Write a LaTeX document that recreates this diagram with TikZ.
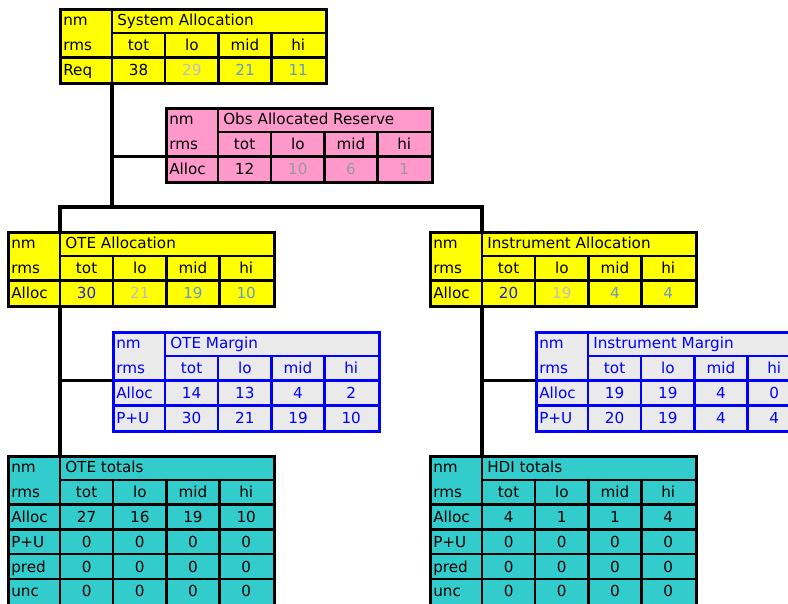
\documentclass[tikz,border=0pt]{standalone}
\usepackage{fontspec}
\setmainfont{DejaVu Sans}
\usepackage{tikz}

\definecolor{tabyellow}{HTML}{FFFF00}
\definecolor{tabpink}{HTML}{FF99CC}
\definecolor{tabgrey}{HTML}{EAEAEA}
\definecolor{tabteal}{HTML}{33CCCC}
\definecolor{tabblue}{HTML}{0000FF}
\definecolor{valpale}{HTML}{C0C0C0}
\definecolor{valgrey}{HTML}{999999}
\definecolor{valsteel}{HTML}{6699CC}
\definecolor{valblue}{HTML}{2222DD}

\tikzset{
  tabframe/.style={line width=2.3pt, inner sep=0pt, anchor=north west, minimum width=199.35pt},
  tabrule/.style={line width=1.8pt},
  tabcell/.style={inner sep=0pt, font=\fontsize{11.4}{13}\selectfont},
  link/.style={draw=black, line width=2.3pt},
}

% one cost table: name, x, y, rows, fill, rule colour, text colour, title, data rows
\newcommand{\costtable}[9]{%
  \node[tabframe, draw=#6, fill=#5, minimum height={18.6pt*#4}] (#1) at (#2,#3) {};
  \begin{scope}[shift={(#2,#3)}]
    \draw[tabrule, #6] (53,0) -- (53,24.8*#4);
    \draw[tabrule, #6] (53,24.8) -- (265.8,24.8);
    \foreach \c in {1,2,3}
      \draw[tabrule, #6] (53+53.2*\c,24.8) -- (53+53.2*\c,24.8*#4);
    \node[tabcell, text=#7, anchor=base west] at (4,17.8) {nm};
    \node[tabcell, text=#7, anchor=base west] at (4,42.6) {rms};
    \node[tabcell, text=#7, anchor=base west] at (58,17.8) {#8};
    \foreach \h [count=\c from 0] in {tot,lo,mid,hi}
      \node[tabcell, text=#7, anchor=base] at (79.6+53.2*\c,42.6) {\h};
    \foreach \lab/\va/\vb/\vc/\vd [count=\k from 2] in {#9} {
      \draw[tabrule, #6] (0,24.8*\k) -- (265.8,24.8*\k);
      \node[tabcell, text=#7, anchor=base west] at (4,24.8*\k+17.8) {\lab};
      \foreach \v [count=\c from 0] in {\va,\vb,\vc,\vd}
        \node[tabcell, text=#7, anchor=base] at (79.6+53.2*\c,24.8*\k+17.8) {\v};
    }
    \coordinate (#1-top) at (53,0);
    \coordinate (#1-bot) at (53,24.8*#4);
    \coordinate (#1-r2) at (0,49.6);
  \end{scope}
}

\begin{document}
\begin{tikzpicture}[x=0.75pt,y=0.75pt,yscale=-1,xscale=1]
\useasboundingbox (0,0) rectangle (788,603);
\clip (0,0) rectangle (788,603);

% allocation tables
\costtable{sys}{59}{8}{3}{tabyellow}{black}{black}{System Allocation}{Req/38/\textcolor{valpale}{29}/\textcolor{valsteel}{21}/\textcolor{valsteel}{11}}
\costtable{obs}{165}{107}{3}{tabpink}{black}{black}{Obs Allocated Reserve}{Alloc/12/\textcolor{valgrey}{10}/\textcolor{valgrey}{6}/\textcolor{valgrey}{1}}
\costtable{oteA}{7}{231}{3}{tabyellow}{black}{black}{OTE Allocation}{Alloc/\textcolor{valblue}{30}/\textcolor{valpale}{21}/\textcolor{valsteel}{19}/\textcolor{valsteel}{10}}
\costtable{insA}{429}{231}{3}{tabyellow}{black}{black}{Instrument Allocation}{Alloc/\textcolor{valblue}{20}/\textcolor{valpale}{19}/\textcolor{valsteel}{4}/\textcolor{valsteel}{4}}

% margin tables
\costtable{oteM}{112}{331}{4}{tabgrey}{tabblue}{tabblue}{OTE Margin}{Alloc/14/13/4/2, P+U/30/21/19/10}
\costtable{insM}{535}{331}{4}{tabgrey}{tabblue}{tabblue}{Instrument Margin}{Alloc/19/19/4/0, P+U/20/19/4/4}

% totals
\costtable{oteT}{7}{455}{6}{tabteal}{black}{black}{OTE totals}{Alloc/27/16/19/10, P+U/0/0/0/0, pred/0/0/0/0, unc/0/0/0/0}
\costtable{hdiT}{429}{455}{6}{tabteal}{black}{black}{HDI totals}{Alloc/4/1/1/4, P+U/0/0/0/0, pred/0/0/0/0, unc/0/0/0/0}

% tree lines
\coordinate (bus) at (0,207);
\draw[link] (sys-bot) -- (sys-bot |- bus);
\draw[link] (sys-bot |- obs-r2) -- (obs-r2);
\draw[link] (oteA-top) -- (oteA-top |- bus) -- (insA-top |- bus) -- (insA-top);
\draw[link] (oteA-bot) -- (oteT-top);
\draw[link] (oteA-bot |- oteM-r2) -- (oteM-r2);
\draw[link] (insA-bot) -- (hdiT-top);
\draw[link] (insA-bot |- insM-r2) -- (insM-r2);

\end{tikzpicture}
\end{document}
